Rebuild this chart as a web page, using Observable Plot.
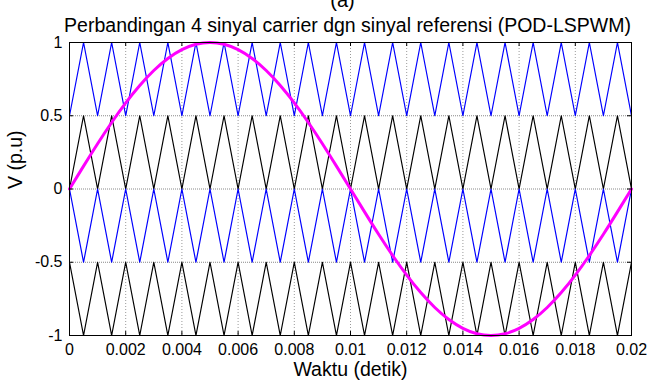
<!DOCTYPE html>
<html>
<head>
<meta charset="utf-8">
<script src="https://cdn.jsdelivr.net/npm/d3@7"></script>
<script src="https://cdn.jsdelivr.net/npm/@observablehq/plot@0.6"></script>
<style>
  html, body { margin: 0; padding: 0; background: #fff; }
  svg { display: block; }
</style>
</head>
<body>
<div id="chart"></div>
<script>
// ---- Data ----
const titleText = "Perbandingan 4 sinyal carrier dgn sinyal referensi (POD-LSPWM)";
const topLabel = "(a)";
const xLabel = "Waktu (detik)";
const yLabel = "V (p.u)";

const xTicks = [0, 0.002, 0.004, 0.006, 0.008, 0.01, 0.012, 0.014, 0.016, 0.018, 0.02];
const xTickLabels = ["0", "0.002", "0.004", "0.006", "0.008", "0.01", "0.012", "0.014", "0.016", "0.018", "0.02"];
const yTicks = [-1, -0.5, 0, 0.5, 1];
const yTickLabels = ["-1", "-0.5", "0", "0.5", "1"];

// carrier vertex times (s)
const carrierTime = [0, 0.0005, 0.001, 0.0015, 0.002, 0.0025, 0.003, 0.0035, 0.004, 0.0045,
  0.005, 0.0055, 0.006, 0.0065, 0.007, 0.0075, 0.008, 0.0085, 0.009, 0.0095,
  0.01, 0.0105, 0.011, 0.0115, 0.012, 0.0125, 0.013, 0.0135, 0.014, 0.0145,
  0.015, 0.0155, 0.016, 0.0165, 0.017, 0.0175, 0.018, 0.0185, 0.019, 0.0195, 0.02];

// carrier 1 (blue, 0.5..1)
const carrier1 = [0.5, 1, 0.5, 1, 0.5, 1, 0.5, 1, 0.5, 1, 0.5, 1, 0.5, 1, 0.5, 1, 0.5, 1, 0.5, 1,
  0.5, 1, 0.5, 1, 0.5, 1, 0.5, 1, 0.5, 1, 0.5, 1, 0.5, 1, 0.5, 1, 0.5, 1, 0.5, 1, 0.5];
// carrier 2 (black, 0..0.5)
const carrier2 = [0, 0.5, 0, 0.5, 0, 0.5, 0, 0.5, 0, 0.5, 0, 0.5, 0, 0.5, 0, 0.5, 0, 0.5, 0, 0.5,
  0, 0.5, 0, 0.5, 0, 0.5, 0, 0.5, 0, 0.5, 0, 0.5, 0, 0.5, 0, 0.5, 0, 0.5, 0, 0.5, 0];
// carrier 3 (blue, -0.5..0), phase opposed
const carrier3 = [0, -0.5, 0, -0.5, 0, -0.5, 0, -0.5, 0, -0.5, 0, -0.5, 0, -0.5, 0, -0.5, 0, -0.5, 0, -0.5,
  0, -0.5, 0, -0.5, 0, -0.5, 0, -0.5, 0, -0.5, 0, -0.5, 0, -0.5, 0, -0.5, 0, -0.5, 0, -0.5, 0];
// carrier 4 (black, -1..-0.5), phase opposed
const carrier4 = [-0.5, -1, -0.5, -1, -0.5, -1, -0.5, -1, -0.5, -1, -0.5, -1, -0.5, -1, -0.5, -1, -0.5, -1, -0.5, -1,
  -0.5, -1, -0.5, -1, -0.5, -1, -0.5, -1, -0.5, -1, -0.5, -1, -0.5, -1, -0.5, -1, -0.5, -1, -0.5, -1, -0.5];

// reference sinusoid samples (magenta)
const refTime = carrierTime;
const refValue = [0, 0.156, 0.309, 0.454, 0.588, 0.707, 0.809, 0.891, 0.951, 0.988,
  1, 0.988, 0.951, 0.891, 0.809, 0.707, 0.588, 0.454, 0.309, 0.156,
  0, -0.156, -0.309, -0.454, -0.588, -0.707, -0.809, -0.891, -0.951, -0.988,
  -1, -0.988, -0.951, -0.891, -0.809, -0.707, -0.588, -0.454, -0.309, -0.156, 0];

// ---- Build tables ----
const carriers = [
  {vals: carrier1, color: "#0000ff"},
  {vals: carrier2, color: "#000000"},
  {vals: carrier3, color: "#0000ff"},
  {vals: carrier4, color: "#000000"}
];
const carrierRows = carriers.flatMap((c, ci) =>
  carrierTime.map((t, i) => ({t, v: c.vals[i], id: ci, color: c.color})));
const refRows = refTime.map((t, i) => ({t, v: refValue[i]}));
const xTickRows = xTicks.map((x, i) => ({x, label: xTickLabels[i]}));
const yTickRows = yTicks.map((y, i) => ({y, label: yTickLabels[i]}));
const gridY = yTicks.filter(d => d > -1 && d < 1);
const gridX = xTicks.filter(d => d > 0 && d < 0.02);

const font = "'Liberation Sans', Arial, Helvetica, sans-serif";

const chart = Plot.plot({
  width: 650,
  height: 384,
  marginTop: 42,
  marginBottom: 49,
  marginLeft: 69,
  marginRight: 19,
  style: {fontFamily: font, background: "#fff", color: "#000"},
  x: {domain: [0, 0.02], axis: null},
  y: {domain: [-1, 1], axis: null},
  marks: [
    // grid
    Plot.ruleX(gridX, {stroke: "#999", strokeWidth: 1, strokeDasharray: "1,2"}),
    Plot.ruleY(gridY, {stroke: "#888", strokeWidth: 1, strokeDasharray: "1,1"}),
    // carriers
    Plot.line(carrierRows, {x: "t", y: "v", z: "id", stroke: "color", strokeWidth: 1.2}),
    // reference
    Plot.line(refRows, {x: "t", y: "v", stroke: "#ff00ff", strokeWidth: 3, curve: "natural"}),
    // frame
    Plot.frame({stroke: "#000", strokeWidth: 1}),
    // inward ticks
    Plot.ruleX(xTicks, {x: d => d, y1: -1, y2: -1, insetBottom: 4, stroke: "#000"}),
    Plot.ruleX(xTicks, {x: d => d, y1: 1, y2: 1, insetTop: 4, stroke: "#000"}),
    Plot.ruleY(yTicks, {y: d => d, x1: 0, x2: 0, insetLeft: 4, stroke: "#000"}),
    Plot.ruleY(yTicks, {y: d => d, x1: 0.02, x2: 0.02, insetRight: 4, stroke: "#000"}),
    // tick labels
    Plot.text(xTickRows, {x: "x", y: () => -1, text: "label", dy: 14, fontSize: 16, fill: "#000"}),
    Plot.text(yTickRows, {x: () => 0, y: "y", text: "label", dx: -7, textAnchor: "end", fontSize: 16, fill: "#000"}),
    // titles
    Plot.text([titleText], {frameAnchor: "top", dx: -3, dy: -24, fontSize: 19.5, fill: "#000"}),
    Plot.text([topLabel], {frameAnchor: "top", dx: -8, dy: -50, fontSize: 20, fill: "#000"}),
    Plot.text([xLabel], {frameAnchor: "bottom", dy: 40, fontSize: 19.5, fill: "#000"}),
    Plot.text([yLabel], {frameAnchor: "left", dx: -54, rotate: -90, fontSize: 19.5, fill: "#000"})
  ]
});
document.getElementById("chart").appendChild(chart);
</script>
</body>
</html>
